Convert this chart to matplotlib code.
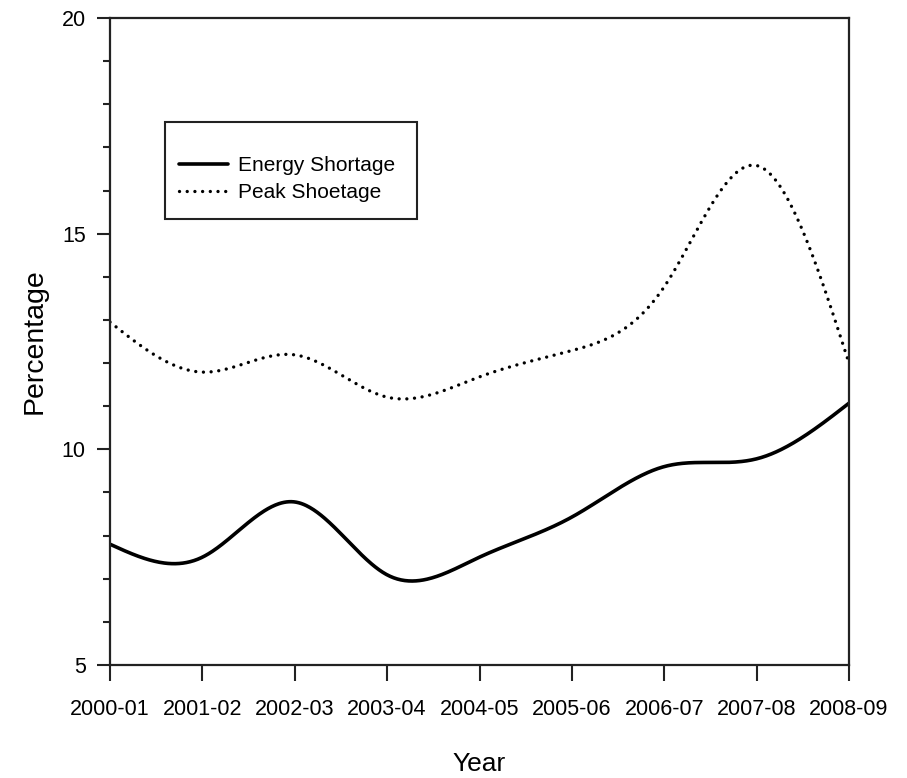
import numpy as np
import matplotlib
matplotlib.use("Agg")
import matplotlib.pyplot as plt
from matplotlib.patches import Rectangle

# Fiscal-year periods and shortage percentages
years = ["2000-01", "2001-02", "2002-03", "2003-04", "2004-05",
         "2005-06", "2006-07", "2007-08", "2008-09"]
energy_shortage = [7.80, 7.50, 8.78, 7.09, 7.50, 8.43, 9.60, 9.78, 11.07]
peak_shortage = [12.95, 11.79, 12.19, 11.21, 11.68, 12.29, 13.77, 16.58, 12.00]


def natural_spline(x, y, xs):
    """Evaluate a natural cubic spline through (x, y) at xs."""
    x = np.asarray(x, float)
    y = np.asarray(y, float)
    n = len(x)
    h = np.diff(x)
    A = np.zeros((n, n))
    b = np.zeros(n)
    A[0, 0] = A[-1, -1] = 1.0
    for i in range(1, n - 1):
        A[i, i - 1] = h[i - 1]
        A[i, i] = 2 * (h[i - 1] + h[i])
        A[i, i + 1] = h[i]
        b[i] = 6 * ((y[i + 1] - y[i]) / h[i] - (y[i] - y[i - 1]) / h[i - 1])
    M = np.linalg.solve(A, b)
    idx = np.clip(np.searchsorted(x, xs) - 1, 0, n - 2)
    x0, x1 = x[idx], x[idx + 1]
    hh = x1 - x0
    t0, t1 = x1 - xs, xs - x0
    return (M[idx] * t0 ** 3 / (6 * hh) + M[idx + 1] * t1 ** 3 / (6 * hh)
            + (y[idx] / hh - M[idx] * hh / 6) * t0
            + (y[idx + 1] / hh - M[idx + 1] * hh / 6) * t1)


font = ["Liberation Sans", "DejaVu Sans"]
plt.rcParams["font.family"] = font

W, H = 907, 778
fig = plt.figure(figsize=(W / 100, H / 100), dpi=100)
ax = fig.add_axes([110 / W, 113 / H, 739 / W, 647 / H])

pos = np.arange(len(years))
fine = np.linspace(pos[0], pos[-1], 600)

ax.plot(fine, natural_spline(pos, energy_shortage, fine), color="black",
        lw=2.6, solid_capstyle="round", label="Energy Shortage")
ax.plot(fine, natural_spline(pos, peak_shortage, fine), color="black",
        lw=2.4, linestyle=(0, (0.01, 2.3)), dash_capstyle="round",
        label="Peak Shoetage")

ax.set_xlim(pos[0], pos[-1])
ax.set_ylim(5, 20)
ax.set_xticks(pos)
ax.set_xticklabels(years)
ax.set_yticks([5, 10, 15, 20])
ax.set_yticks(np.arange(5, 21, 1), minor=True)

for sp in ax.spines.values():
    sp.set_linewidth(1.6)
    sp.set_color("#222222")

ax.tick_params(axis="x", which="major", length=11.5, width=1.5,
               direction="out", pad=13, color="#222222", labelsize=15.5)
ax.tick_params(axis="y", which="major", length=9.5, width=1.5,
               direction="out", pad=8, color="#222222", labelsize=15.5)
ax.tick_params(axis="y", which="minor", length=5, width=1.5,
               direction="out", color="#222222")

ax.set_xlabel("Year", fontsize=19)
ax.xaxis.set_label_coords(0.5, (665 - 752) / 647)
ax.set_ylabel("Percentage", fontsize=20.5)
ax.yaxis.set_label_coords((48 - 110) / 739, 0.5)

# Legend frame and entries
ax.add_patch(Rectangle(((165 - 110) / 739, (665 - 219) / 647),
                       (417 - 165) / 739, (219 - 122) / 647,
                       transform=ax.transAxes, fill=False,
                       edgecolor="#222222", lw=1.5, zorder=5))
ax.legend(loc="upper left",
          bbox_to_anchor=((179 - 110) / 739, (665 - 156) / 647),
          frameon=False, fontsize=15,
          handlelength=2.35, handletextpad=0.5, labelspacing=0.4,
          borderaxespad=0, borderpad=0)

fig.savefig("out.png", dpi=100)
